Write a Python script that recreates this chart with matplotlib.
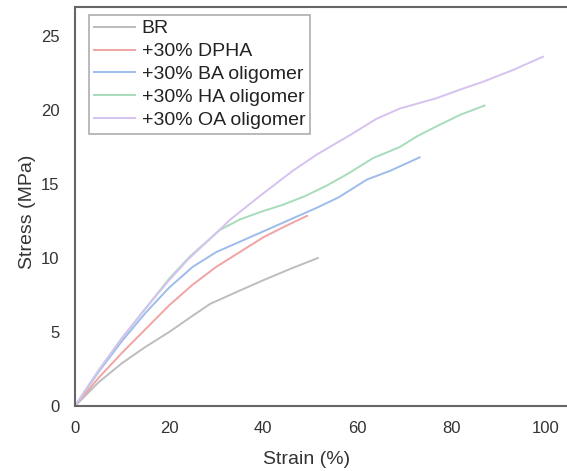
import matplotlib
matplotlib.use("Agg")
import matplotlib.pyplot as plt

plt.rcParams['font.family'] = ['Liberation Sans', 'DejaVu Sans']

labels = ["BR", "+30% DPHA", "+30% BA oligomer", "+30% HA oligomer", "+30% OA oligomer"]
colors = ["#bdbdbd", "#f2a3a3", "#9dbcec", "#a6dcbc", "#d6c2f0"]

br_x = [0, 5, 10, 15, 20, 25, 28.7, 35, 40, 46, 51.6]
br_y = [0, 1.6, 2.9, 4.0, 5.0, 6.1, 6.9, 7.8, 8.5, 9.3, 10.0]

dpha_x = [0, 5, 10, 15, 20, 25, 30, 35, 40, 45, 49.3]
dpha_y = [0, 1.9, 3.6, 5.2, 6.8, 8.2, 9.4, 10.4, 11.4, 12.2, 12.85]

ba_x = [0, 5, 10, 15, 20, 25, 30, 35, 40, 45, 51.4, 56, 62, 67, 73.2]
ba_y = [0, 2.3, 4.4, 6.3, 8.0, 9.4, 10.4, 11.1, 11.8, 12.5, 13.4, 14.1, 15.3, 15.9, 16.8]

ha_x = [0, 5, 10, 15, 20, 24.4, 30.8, 35, 39.3, 44.2, 49, 53.5, 58, 63.3, 69, 72.5, 76.8, 82, 87]
ha_y = [0, 2.4, 4.6, 6.6, 8.6, 10.1, 11.9, 12.6, 13.1, 13.6, 14.2, 14.9, 15.7, 16.75, 17.5, 18.2, 18.9, 19.7, 20.3]

oa_x = [0, 5, 10, 15, 20, 24, 28.7, 33, 39.3, 46.3, 51.4, 58.4, 64, 69, 76.8, 82, 86.6, 93, 99.4]
oa_y = [0, 2.4, 4.6, 6.6, 8.5, 9.9, 11.3, 12.6, 14.2, 15.9, 17.0, 18.3, 19.4, 20.1, 20.8, 21.4, 21.9, 22.7, 23.6]

series = [(br_x, br_y), (dpha_x, dpha_y), (ba_x, ba_y), (ha_x, ha_y), (oa_x, oa_y)]

x_ticks = [0, 20, 40, 60, 80, 100]
y_ticks = [0, 5, 10, 15, 20, 25]

fig = plt.figure(figsize=(5.67, 4.71), dpi=100)
ax = fig.add_axes([75/567, 65/471, 1 - 75/567, (406-7)/471])

for (xs, ys), lab, c in zip(series, labels, colors):
    ax.plot(xs, ys, color=c, lw=1.4, label=lab)

ax.set_xlim(0, 104.5)
ax.set_ylim(0, 26.96)
ax.set_xticks(x_ticks)
ax.set_yticks(y_ticks)
ax.tick_params(axis='both', length=0, labelsize=12, colors='#333333')
ax.tick_params(axis='x', pad=11)
ax.tick_params(axis='y', pad=11)
for s in ['left', 'bottom', 'top']:
    ax.spines[s].set_color('#666666')
    ax.spines[s].set_linewidth(1.5)
ax.spines['right'].set_visible(False)

fig.text(307/567, 1 - 460/471, "Strain (%)", ha='center', va='center', fontsize=14, color='#333333')
fig.text(28/567, 1 - 212/471, "Stress (MPa)", ha='center', va='center', rotation=90, fontsize=14, color='#333333')

leg = ax.legend(loc='upper left', bbox_to_anchor=((89-75)/492, (406-15)/399),
                fontsize=14, frameon=True, fancybox=False, handlelength=2.1,
                labelspacing=0.27, borderpad=0.25, handletextpad=0.35, borderaxespad=0)
leg.get_frame().set_edgecolor('#999999')
leg.get_frame().set_linewidth(1.2)
for t in leg.get_texts():
    t.set_color('#222222')

fig.savefig("out.png", dpi=100)
